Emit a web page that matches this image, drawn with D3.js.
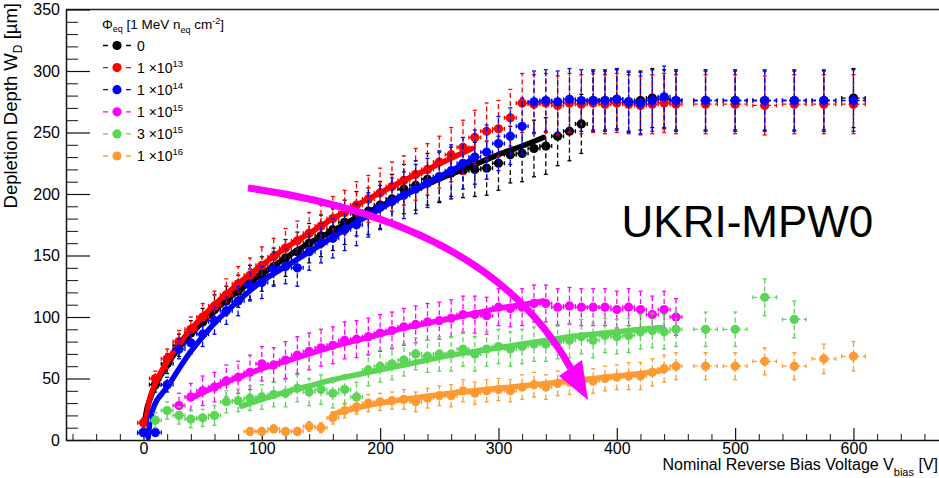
<!DOCTYPE html>
<html>
<head>
<meta charset="utf-8">
<script src="https://cdn.jsdelivr.net/npm/d3@7"></script>
<style>
  body { margin: 0; background: #fff; }
  svg { display: block; font-family: "Liberation Sans", Arial, Helvetica, sans-serif; }
</style>
</head>
<body>
<svg id="chart" width="939" height="478"></svg>
<script>
// Each point: [bias voltage V, depletion depth um, x error, y error]
const pointsF0 = [
  [0,6,5,3],[10,45,5,6],[20,62,5,8],[30,77,5,9],[40,87,5,10],[50,96,5,11],[60,106,5,12],[70,113,5,12],
  [80,121,5,13],[90,128,5,14],[100,135,5,14],[110,141,5,15],[120,148,5,15],[130,153,5,16],[140,160,5,16],
  [150,166,5,17],[160,171,5,17],[170,177,5,18],[180,184,5,18],[190,186,5,19],[200,191,5,19],[210,196,5,20],
  [220,204,5,20],[230,207,5,20],[240,212,5,21],[250,214,5,21],[260,217,5,21],[270,219,5,22],[280,220,5,22],
  [290,221,5,22],[300,225,5,22],[310,232,5,23],[320,233,5,23],[330,237,5,23],[340,239,5,23],[350,247,5,24],
  [360,251,5,24],[370,257,5,24],[380,276,5,24],[390,276,5,24],[400,277,5,24],[410,275,5,24],[420,276,5,24],
  [430,278,5,24],[440,277,5,24],[450,276,5,24],[475,276,10,24],[500,276,10,24],[525,276,10,24],
  [550,276,10,24],[575,276,10,24],[600,278,10,24]
];
const pointsF13 = [
  [0,14,5,4],[10,50,5,6],[20,66,5,8],[30,80,5,9],[40,90,5,10],[50,100,5,11],[60,109,5,12],[70,118,5,13],
  [80,127,5,14],[90,134,5,14],[100,142,5,15],[110,149,5,15],[120,156,5,16],[130,162,5,16],[140,168,5,17],
  [150,174,5,17],[160,180,5,18],[170,185,5,18],[180,191,5,19],[190,196,5,19],[200,201,5,20],[210,206,5,20],
  [220,211,5,20],[230,216,5,21],[240,220,5,21],[250,226,5,21],[260,232,5,22],[270,238,5,22],[280,246,5,22],
  [290,251,5,23],[300,253,5,23],[310,262,5,23],[320,274,5,24],[330,273,5,24],[340,274,5,24],[350,272,5,24],
  [360,274,5,24],[370,273,5,24],[380,274,5,24],[390,273,5,24],[400,274,5,24],[410,273,5,24],[420,272,5,24],
  [430,273,5,24],[440,274,5,24],[450,273,5,24],[475,273,10,24],[500,273,10,24],[525,272,10,24],
  [550,273,10,24],[575,273,10,24],[600,273,10,24]
];
const pointsF14 = [
  [0,6,5,3],[10,6,5,3],[20,45,5,6],[30,74,5,8],[40,79,5,9],[50,86,5,10],[60,97,5,11],[70,105,5,11],
  [80,113,5,12],[90,126,5,13],[100,128,5,13],[110,139,5,14],[120,141,5,14],[130,140,5,15],[140,153,5,15],
  [150,160,5,16],[160,164,5,16],[170,171,5,17],[180,175,5,17],[190,183,5,18],[200,189,5,18],[210,194,5,19],
  [220,199,5,19],[230,204,5,20],[240,209,5,20],[250,214,5,20],[260,219,5,21],[270,225,5,21],[280,230,5,22],
  [290,234,5,22],[300,241,5,22],[310,247,5,23],[320,255,5,23],[330,275,5,25],[340,276,5,25],[350,275,5,25],
  [360,277,5,25],[370,276,5,25],[380,276,5,25],[390,276,5,25],[400,277,5,25],[410,275,5,25],[420,274,5,25],
  [430,276,5,25],[440,279,5,25],[450,276,5,25],[475,276,10,25],[500,276,10,25],[525,276,10,25],
  [550,276,10,25],[575,276,10,25],[600,276,10,25]
];
const pointsF15 = [
  [30,28,5,10],[40,35,5,11],[50,40,5,12],[60,43,5,12],[70,48,5,13],[80,51,5,13],[90,55,5,14],[100,62,5,14],
  [110,61,5,14],[120,65,5,15],[130,69,5,15],[140,72,5,15],[150,75,5,15],[160,77,5,15],[170,81,5,15],
  [180,82,5,15],[190,84,5,15],[200,87,5,15],[210,89,5,15],[220,92,5,15],[230,94,5,15],[240,96,5,15],
  [250,97,5,15],[260,99,5,15],[270,102,5,15],[280,102,5,15],[290,101,5,15],[300,108,5,15],[310,107,5,15],
  [320,108,5,15],[330,111,5,15],[340,111,5,15],[350,108,5,15],[360,109,5,15],[370,108,5,15],[380,108,5,15],
  [390,108,5,15],[400,106,5,15],[410,108,5,15],[420,106,5,15],[430,102,5,15],[440,106,5,15],[450,100,5,15]
];
const points3F15 = [
  [10,16,5,6],[20,24,5,7],[30,20,5,7],[40,17,5,7],[50,18,5,7],[60,20,5,8],[70,31,5,9],[80,32,5,9],
  [90,34,5,10],[100,35,5,10],[110,37,5,10],[120,38,5,11],[130,42,5,11],[140,39,5,11],[150,41,5,12],
  [160,38,5,12],[170,41,5,12],[180,35,5,12],[190,57,5,13],[200,60,5,13],[210,62,5,13],[220,65,5,13],
  [230,70,5,13],[240,68,5,13],[250,70,5,14],[260,70,5,14],[270,74,5,14],[280,70,5,14],[290,74,5,14],
  [300,76,5,14],[310,74,5,14],[320,76,5,14],[330,78,5,14],[340,78,5,14],[350,80,5,14],[360,81,5,14],
  [370,84,5,14],[380,81,5,14],[390,85,5,14],[400,84,5,14],[410,85,5,14],[420,88,5,14],[430,89,5,14],
  [440,88,5,14],[450,90,5,14],[475,90,10,14],[500,90,10,14],[525,116,10,15],[550,98,10,15]
];
const pointsF16 = [
  [90,7,5,3],[100,7,5,3],[110,9,5,3],[120,7,5,3],[130,7,5,3],[140,11,5,4],[150,10,5,4],[160,18,5,5],
  [170,24,5,6],[180,27,5,6],[190,30,5,7],[200,31,5,7],[210,32,5,7],[220,33,5,8],[230,31,5,8],[240,34,5,8],
  [250,36,5,8],[260,36,5,9],[270,40,5,9],[280,38,5,9],[290,40,5,9],[300,41,5,9],[310,40,5,9],[320,43,5,10],
  [330,45,5,10],[340,43,5,10],[350,46,5,10],[360,47,5,10],[370,49,5,10],[380,48,5,10],[390,50,5,10],
  [400,51,5,10],[410,52,5,11],[420,52,5,11],[430,55,5,11],[440,58,5,11],[450,60,5,11],[475,60,10,11],
  [500,60,10,11],[525,64,10,11],[550,60,10,11],[575,66,10,12],[600,68,10,12]
];

// Fit curves: [V, W]
const fitF0 = [[1,15],[3,26],[5,32],[10,44],[20,61],[30,75],[40,86],[60,105],[80,121],[100,135],[120,148],
  [140,160],[160,170],[180,181],[200,190],[220,199],[240,208],[260,216],[280,224],[300,232],[320,239],[338,246]];
const fitF13 = [[2,15],[4,28],[6,36],[10,46],[20,64],[30,78],[40,90],[60,110],[80,127],[100,142],[120,156],
  [140,168],[160,180],[180,191],[200,201],[220,211],[240,220],[260,229],[278,237]];
const fitF14 = [[4,2],[5,12],[6,18],[8,25],[10,30],[15,37],[20,43],[30,58],[40,72],[50,84],[60,95],[80,113],
  [100,129],[120,141],[140,153],[160,165],[180,177],[200,188],[220,199],[240,209],[260,219],[278,228]];
const fitF15 = [[40,34],[60,43],[80,51],[100,58],[120,64],[140,70],[160,76],[180,81],[200,86],[220,91],
  [240,95],[260,99],[280,103],[300,107],[320,110],[338,113]];
const fit3F15 = [[83,27.5],[100,33],[120,39],[140,44],[160,49],[180,53],[200,57],[220,61],[240,65],[260,69],
  [280,72],[300,75],[320,78],[340,81],[360,84],[380,86],[400,88],[420,90],[438,91.5]];
const fitF16 = [[160,21],[180,26],[200,30],[220,33],[240,35.5],[260,38],[280,40],[300,42],[320,44],[340,46],
  [360,48],[380,50],[400,52],[420,54],[438,56.5]];

// Legend entries
const fluenceMantissa = ["0", "1", "1", "1", "3", "1"];
const fluenceExponent = [null, "13", "14", "15", "15", "16"];

// Arrow annotation in data units: start, control, end of curve, then head tip and base corners
const arrowCurve = [[88.3, 204.9], [292.7, 177.2], [360.9, 58.5]];
const arrowHead = [[375.6, 32.5], [351.1, 52.0], [370.6, 65.0]];

const xTickMajor = [0, 100, 200, 300, 400, 500, 600];
const yTickMajor = [0, 50, 100, 150, 200, 250, 300, 350];

const colors = ["#000000", "#ff0000", "#0000ff", "#ff00ff", "#5ad556", "#ff9a33"];

const svg = d3.select("#chart");

const x = d3.scaleLinear().domain([-65.5, 672.3]).range([66, 939]);
const y = d3.scaleLinear().domain([0, 350]).range([440, 9.5]);

// Frame top line
svg.append("line")
    .attr("x1", x(-65.5)).attr("x2", x(672.3))
    .attr("y1", y(350)).attr("y2", y(350))
    .attr("stroke", "#222").attr("stroke-width", 1.5);

// x axis minor ticks (every 20 V)
const xMinor = d3.range(-60, 672, 20).filter(v => v % 100 !== 0);
svg.append("g")
    .attr("transform", "translate(0," + y(0) + ")")
    .call(d3.axisBottom(x).tickValues(xMinor).tickSizeInner(-6).tickSizeOuter(0).tickFormat(""))
    .call(g => g.select(".domain").remove())
    .selectAll("line").attr("stroke", "#111");

// x axis major
svg.append("g")
    .attr("transform", "translate(0," + y(0) + ")")
    .call(d3.axisBottom(x).tickValues(xTickMajor).tickSizeInner(-12).tickSizeOuter(0).tickPadding(3))
    .call(g => g.select(".domain").attr("stroke", "#111").attr("stroke-width", 1.5))
    .call(g => g.selectAll("line").attr("stroke", "#111").attr("stroke-width", 1.2))
    .call(g => g.selectAll("text").attr("font-size", 16).attr("fill", "#000")
        .attr("font-family", "Liberation Sans, Arial, sans-serif"));

// y axis minor ticks (every 10)
const yMinor = d3.range(0, 351, 10).filter(v => v % 50 !== 0);
svg.append("g")
    .attr("transform", "translate(" + x(-65.5) + ",0)")
    .call(d3.axisLeft(y).tickValues(yMinor).tickSizeInner(-12).tickSizeOuter(0).tickFormat(""))
    .call(g => g.select(".domain").remove())
    .selectAll("line").attr("stroke", "#111");

// y axis major
svg.append("g")
    .attr("transform", "translate(" + x(-65.5) + ",0)")
    .call(d3.axisLeft(y).tickValues(yTickMajor).tickSizeInner(-24).tickSizeOuter(0).tickPadding(6))
    .call(g => g.select(".domain").attr("stroke", "#111").attr("stroke-width", 1.5))
    .call(g => g.selectAll("line").attr("stroke", "#111").attr("stroke-width", 1.2))
    .call(g => g.selectAll("text").attr("font-size", 16).attr("fill", "#000")
        .attr("font-family", "Liberation Sans, Arial, sans-serif"));

// Axis titles
const xTitle = svg.append("text")
    .attr("x", 938).attr("y", 470)
    .attr("text-anchor", "end")
    .attr("font-size", 16);
xTitle.append("tspan").text("Nominal Reverse Bias Voltage V");
xTitle.append("tspan").attr("font-size", 11).attr("dy", 6).text("bias");
xTitle.append("tspan").attr("dy", -6).text(" [V]");

const yTitle = svg.append("text")
    .attr("transform", "translate(17,3) rotate(-90)")
    .attr("text-anchor", "end")
    .attr("font-size", 18.5);
yTitle.append("tspan").text("Depletion Depth W");
yTitle.append("tspan").attr("font-size", 12).attr("dy", 5).text("D");
yTitle.append("tspan").attr("dy", -5).text(" [\u00b5m]");

// Series drawing
const plot = svg.append("g");

function drawSeries(points, fit, color) {
    const g = plot.append("g");
    // vertical error bars (dashed)
    g.selectAll(".ey").data(points).join("line")
        .attr("x1", d => x(d[0])).attr("x2", d => x(d[0]))
        .attr("y1", d => y(d[1] - d[3])).attr("y2", d => y(d[1] + d[3]))
        .attr("stroke", color).attr("stroke-width", 1.3).attr("stroke-dasharray", "5,3");
    // horizontal error bars (dashed)
    g.selectAll(".ex").data(points).join("line")
        .attr("x1", d => x(d[0] - d[2])).attr("x2", d => x(d[0] + d[2]))
        .attr("y1", d => y(d[1])).attr("y2", d => y(d[1]))
        .attr("stroke", color).attr("stroke-width", 1.3).attr("stroke-dasharray", "4,3");
    // caps at vertical ends
    ["top", "bottom"].forEach(side => {
        g.selectAll(".cap-" + side).data(points).join("line")
            .attr("x1", d => x(d[0]) - 2).attr("x2", d => x(d[0]) + 2)
            .attr("y1", d => y(side === "top" ? d[1] + d[3] : d[1] - d[3]))
            .attr("y2", d => y(side === "top" ? d[1] + d[3] : d[1] - d[3]))
            .attr("stroke", color).attr("stroke-width", 1.3);
    });
    // caps at horizontal ends
    ["left", "right"].forEach(side => {
        g.selectAll(".cap-" + side).data(points).join("line")
            .attr("x1", d => x(side === "left" ? d[0] - d[2] : d[0] + d[2]))
            .attr("x2", d => x(side === "left" ? d[0] - d[2] : d[0] + d[2]))
            .attr("y1", d => y(d[1]) - 2).attr("y2", d => y(d[1]) + 2)
            .attr("stroke", color).attr("stroke-width", 1.3);
    });
    // markers
    g.selectAll("circle").data(points).join("circle")
        .attr("cx", d => x(d[0])).attr("cy", d => y(d[1]))
        .attr("r", 4.6)
        .attr("fill", color);
    // fit curve
    g.append("path")
        .datum(fit)
        .attr("fill", "none")
        .attr("stroke", color)
        .attr("stroke-width", 5.5)
        .attr("stroke-linecap", "round")
        .attr("d", d3.line().x(d => x(d[0])).y(d => y(d[1])).curve(d3.curveMonotoneX));
}

drawSeries(pointsF0, fitF0, colors[0]);
drawSeries(pointsF13, fitF13, colors[1]);
drawSeries(pointsF14, fitF14, colors[2]);
drawSeries(pointsF15, fitF15, colors[3]);
drawSeries(points3F15, fit3F15, colors[4]);
drawSeries(pointsF16, fitF16, colors[5]);

// Curved magenta arrow
const [p0, p1, p2] = arrowCurve.map(d => [x(d[0]), y(d[1])]);
svg.append("path")
    .attr("d", "M" + p0 + "Q" + p1 + " " + p2)
    .attr("fill", "none")
    .attr("stroke", "#ff00ff")
    .attr("stroke-width", 7);
svg.append("polygon")
    .attr("points", arrowHead.map(d => [x(d[0]), y(d[1])].join(",")).join(" "))
    .attr("fill", "#ff00ff");

// Label
svg.append("text")
    .attr("x", x(404)).attr("y", y(165))
    .attr("font-size", 44)
    .attr("fill", "#000")
    .text("UKRI-MPW0");

// Legend
const legend = svg.append("g");
const header = legend.append("text").attr("x", 102).attr("y", 29).attr("font-size", 13.5);
header.append("tspan").text("\u03a6");
header.append("tspan").attr("font-size", 9).attr("dy", 3).text("eq");
header.append("tspan").attr("dy", -3).text(" [1 MeV n");
header.append("tspan").attr("font-size", 9).attr("dy", 4).text("eq");
header.append("tspan").attr("dy", -4).text(" cm");
header.append("tspan").attr("font-size", 9).attr("dy", -5).text("-2");
header.append("tspan").attr("dy", 5).text("]");

fluenceMantissa.forEach((m, i) => {
    const cy = 45.5 + i * 22.1;
    legend.append("line")
        .attr("x1", 103).attr("x2", 131).attr("y1", cy).attr("y2", cy)
        .attr("stroke", colors[i]).attr("stroke-width", 1.3)
        .attr("stroke-dasharray", "5,18");
    legend.append("circle")
        .attr("cx", 117).attr("cy", cy).attr("r", 4.6).attr("fill", colors[i]);
    const t = legend.append("text").attr("x", 137).attr("y", cy + 5).attr("font-size", 14);
    if (fluenceExponent[i] === null) {
        t.text(m);
    } else {
        t.append("tspan").text(m + (m === "3" ? "  \u00d710" : " \u00d710"));
        t.append("tspan").attr("font-size", 9.5).attr("dy", -6).text(fluenceExponent[i]);
    }
});
</script>
</body>
</html>
